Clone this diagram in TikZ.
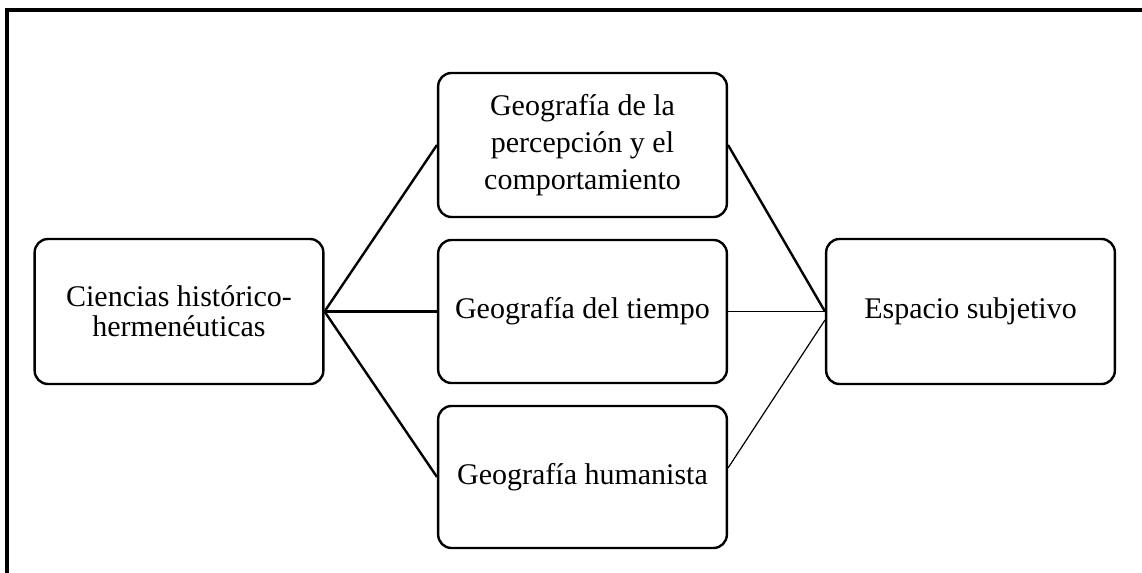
\documentclass[tikz,border=0pt]{standalone}
\usepackage{fontspec}
\setmainfont{Liberation Serif}
\usetikzlibrary{calc}
\begin{document}
\begin{tikzpicture}[x=0.75pt,y=-0.75pt,
  box/.style={draw, line width=1.8pt, rounded corners=10pt, align=center,
    minimum width=216.5pt, inner sep=0pt,
    font=\fontsize{22.5}{22.5}\selectfont},
  thickline/.style={line width=1.8pt},
  thinline/.style={line width=0.9pt},
  frameline/.style={line width=2.4pt}]
\useasboundingbox (0,0) rectangle (1142,573);
\coordinate (fb) at (7,573);
\coordinate (ftl) at (7,10);
\coordinate (fr) at (1142,10);
\draw[frameline] (fb) -- (ftl) -- (fr);
\node[box, minimum height=108.75pt] (L) at (179,311.5) {Ciencias histórico-\\hermenéuticas};
\node[box, minimum height=108pt, font=\fontsize{22.5}{27.5}\selectfont] (M1) at (582.5,145) {Geografía de la\\percepción y el\\comportamiento};
\node[box, minimum height=107.25pt] (M2) at (582.5,311.5) {Geografía del tiempo};
\node[box, minimum height=106.5pt] (M3) at (582.5,477) {Geografía humanista};
\node[box, minimum height=108.75pt] (R) at (970.5,311.5) {Espacio subjetivo};
\draw[thickline] (L.east) -- (M1.west);
\draw[thickline] (L.east) -- (M2.west);
\draw[thickline] (L.east) -- (M3.west);
\draw[thickline] (M1.east) -- (R.west);
\draw[thinline] (M2.east) -- (R.west);
\draw[thinline] ($(M3.east)+(0,-9)$) -- ($(R.west)+(0,8.5)$);
\end{tikzpicture}
\end{document}
